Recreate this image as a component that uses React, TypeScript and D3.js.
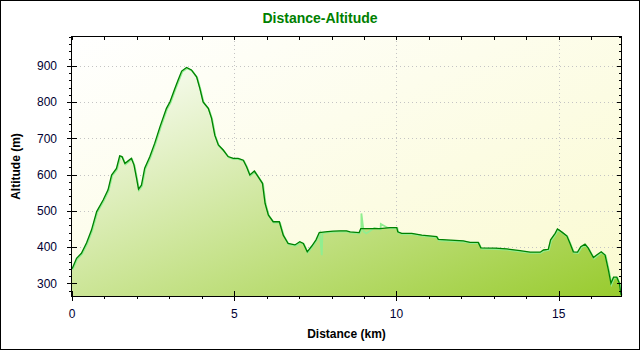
import React, { useEffect, useRef } from 'react';
import * as d3 from 'd3';

// distance (km) and altitude (m)
const distanceKm = [
  0.0, 0.03, 0.14, 0.29, 0.45, 0.6, 0.76, 0.96, 1.11, 1.22, 1.37, 1.47, 1.54, 1.63, 1.73, 1.83, 1.91, 1.99,
  2.05, 2.14, 2.24, 2.4, 2.55, 2.71, 2.91, 3.02, 3.17, 3.27, 3.38, 3.53, 3.68, 3.84, 3.94, 4.04, 4.2, 4.3,
  4.4, 4.51, 4.66, 4.81, 4.97, 5.12, 5.28, 5.38, 5.48, 5.62, 5.74, 5.87, 5.95, 6.05, 6.2, 6.39, 6.51, 6.66,
  6.87, 7.02, 7.13, 7.25, 7.39, 7.52, 7.62, 7.8, 8.05, 8.26, 8.46, 8.57, 8.85, 8.9, 9.49, 9.8, 10.01, 10.04,
  10.16, 10.47, 10.78, 11.24, 11.29, 12.06, 12.27, 12.52, 12.6, 13.04, 13.4, 13.81, 14.12, 14.43, 14.53,
  14.68, 14.75, 14.89, 14.96, 15.09, 15.25, 15.35, 15.45, 15.58, 15.68, 15.81, 15.91, 16.07, 16.17, 16.31,
  16.43, 16.53, 16.61, 16.69, 16.79, 16.87, 16.92,
];
const altitudeM = [
  340, 346, 369, 383, 412, 447, 498, 530, 558, 599, 617, 652, 650, 631, 638, 645, 627, 590,
  560, 571, 618, 650, 687, 732, 783, 801, 838, 861, 886, 896, 889, 870, 838, 801, 783, 756,
  709, 682, 668, 650, 645, 645, 640, 622, 599, 610, 594, 576, 521, 489, 470, 470, 433, 410,
  406, 415, 410, 387, 403, 420, 440, 442, 444, 445, 445, 442, 440, 451, 451, 454, 454, 442,
  438, 438, 433, 429, 421, 417, 413, 413, 398, 397, 395, 390, 386, 386, 392,
  394, 420, 438, 450, 442, 431, 410, 387, 386, 401, 408, 397, 371, 378, 387,
  378, 337, 300, 317, 317, 300, 268,
];
// raw GPS readings where the light trace leaves the smoothed one
const rawDistanceKm = [7.68, 7.7, 8.8, 8.9, 8.97, 9.05, 9.3, 9.5, 9.72];
const rawAltitudeM = [380, 440, 440, 495, 445, 440, 455, 466, 455];

const yTicks = [300, 400, 500, 600, 700, 800, 900];
const xTicks = [0, 5, 10, 15];

const W = 640;
const H = 350;
const font = '"Liberation Sans", Arial, sans-serif';

const ProfileChart: React.FC = () => {
  const ref = useRef<SVGSVGElement>(null);

  useEffect(() => {
    const svgEl = d3.select(ref.current);
    svgEl.html('');
    const m = { top: 37, right: 19, bottom: 54, left: 72 };
    const iw = W - m.left - m.right;
    const ih = H - m.top - m.bottom;

    const x = d3.scaleLinear().domain([0, 16.92]).range([0, iw]);
    const y = d3.scaleLinear().domain([265, 980]).range([ih, 0]);

    const pts = distanceKm.map((d, i) => ({ d, a: altitudeM[i] }));
    const raw = pts
      .concat(rawDistanceKm.map((d, i) => ({ d, a: rawAltitudeM[i] })))
      .sort((p, q) => p.d - q.d);

    const defs = svgEl.append('defs');
    const bg = defs.append('linearGradient').attr('id', 'bgGrad')
      .attr('x1', 0).attr('y1', 0).attr('x2', 1).attr('y2', 1);
    bg.append('stop').attr('offset', '0%').attr('stop-color', '#ffffff');
    bg.append('stop').attr('offset', '100%').attr('stop-color', '#fafad0');
    // bounding-box gradient so the lower left corner is already half green
    const fill = defs.append('linearGradient').attr('id', 'areaGrad')
      .attr('x1', 0).attr('y1', 0).attr('x2', 1).attr('y2', 1);
    fill.append('stop').attr('offset', '0%').attr('stop-color', '#ffffff');
    fill.append('stop').attr('offset', '100%').attr('stop-color', '#98cb2e');

    svgEl.append('rect')
      .attr('x', 0.5).attr('y', 0.5).attr('width', W - 1).attr('height', H - 1)
      .attr('fill', '#fff').attr('stroke', '#000');

    svgEl.append('text')
      .attr('x', W / 2).attr('y', 23)
      .attr('text-anchor', 'middle')
      .style('font-family', font).style('font-size', '14px').style('font-weight', 'bold')
      .attr('fill', '#008000')
      .text('Distance-Altitude');

    const g = svgEl.append('g').attr('transform', `translate(${m.left},${m.top})`);

    g.append('rect').attr('width', iw).attr('height', ih).attr('fill', 'url(#bgGrad)');

    // dotted grid
    g.selectAll('line.hgrid').data(yTicks).enter().append('line')
      .attr('x1', 0).attr('x2', iw)
      .attr('y1', d => Math.round(y(d)) + 0.5).attr('y2', d => Math.round(y(d)) + 0.5)
      .attr('stroke', '#c4c4c4').attr('stroke-dasharray', '1,3');
    g.selectAll('line.vgrid').data(xTicks.slice(1)).enter().append('line')
      .attr('y1', 0).attr('y2', ih)
      .attr('x1', d => Math.round(x(d)) + 0.5).attr('x2', d => Math.round(x(d)) + 0.5)
      .attr('stroke', '#c4c4c4').attr('stroke-dasharray', '1,3');

    const area = d3.area<{ d: number; a: number }>()
      .x(p => x(p.d)).y0(ih).y1(p => y(p.a));
    const line = d3.line<{ d: number; a: number }>()
      .x(p => x(p.d)).y(p => y(p.a));

    g.append('path').datum(pts).attr('d', area).attr('fill', 'url(#areaGrad)');
    g.append('path').datum(raw).attr('d', line)
      .attr('transform', 'translate(0.6,0.8)')
      .attr('fill', 'none').attr('stroke', '#90ee90').attr('stroke-width', 1.8);
    g.append('path').datum(pts).attr('d', line)
      .attr('fill', 'none').attr('stroke', '#008000').attr('stroke-width', 1.3);

    // frame
    g.append('rect').attr('x', -0.5).attr('y', -0.5).attr('width', iw + 1).attr('height', ih + 1)
      .attr('fill', 'none').attr('stroke', '#000');

    const minorY = d3.range(280, 981, 20);
    const minorX = d3.range(0, 17, 1);
    const tk = g.append('g').attr('stroke', '#000');
    // left axis
    tk.selectAll('line.ly').data(minorY).enter().append('line')
      .attr('x1', d => (d % 100 === 0 ? -5 : -3)).attr('x2', d => (d % 100 === 0 ? 5 : 0))
      .attr('y1', d => Math.round(y(d)) + 0.5).attr('y2', d => Math.round(y(d)) + 0.5);
    // right axis
    tk.selectAll('line.ry').data(minorY).enter().append('line')
      .attr('x1', iw).attr('x2', d => iw - (d % 100 === 0 ? 4 : 2))
      .attr('y1', d => Math.round(y(d)) + 0.5).attr('y2', d => Math.round(y(d)) + 0.5);
    // bottom axis
    tk.selectAll('line.bx').data(minorX).enter().append('line')
      .attr('y1', d => (d % 5 === 0 ? ih - 5 : ih)).attr('y2', d => ih + (d % 5 === 0 ? 5 : 3))
      .attr('x1', d => Math.round(x(d)) + 0.5).attr('x2', d => Math.round(x(d)) + 0.5);
    // top axis
    tk.selectAll('line.tx').data(minorX).enter().append('line')
      .attr('y1', 0).attr('y2', 3)
      .attr('x1', d => Math.round(x(d)) + 0.5).attr('x2', d => Math.round(x(d)) + 0.5);

    const lbl = g.append('g')
      .style('font-family', font).style('font-size', '12px').attr('fill', '#000033');
    lbl.selectAll('text.y').data(yTicks).enter().append('text')
      .attr('x', -15).attr('y', d => y(d)).attr('dy', '0.35em')
      .attr('text-anchor', 'end').text(d => d);
    lbl.selectAll('text.x').data(xTicks).enter().append('text')
      .attr('x', d => x(d)).attr('y', ih + 22)
      .attr('text-anchor', 'middle').text(d => d);

    g.append('text')
      .attr('x', iw / 2).attr('y', ih + 42).attr('text-anchor', 'middle')
      .style('font-family', font).style('font-size', '12px').style('font-weight', 'bold')
      .attr('fill', '#000').text('Distance (km)');
    g.append('text')
      .attr('transform', `translate(${20 - m.left},${ih / 2}) rotate(-90)`)
      .attr('text-anchor', 'middle')
      .style('font-family', font).style('font-size', '12px').style('font-weight', 'bold')
      .attr('fill', '#000').text('Altitude (m)');
  }, []);

  return (
    <svg ref={ref} width={W} height={H}
      style={{ position: 'absolute', left: 0, top: 0, display: 'block' }} />
  );
};

export default function App() {
  return <ProfileChart />;
}
